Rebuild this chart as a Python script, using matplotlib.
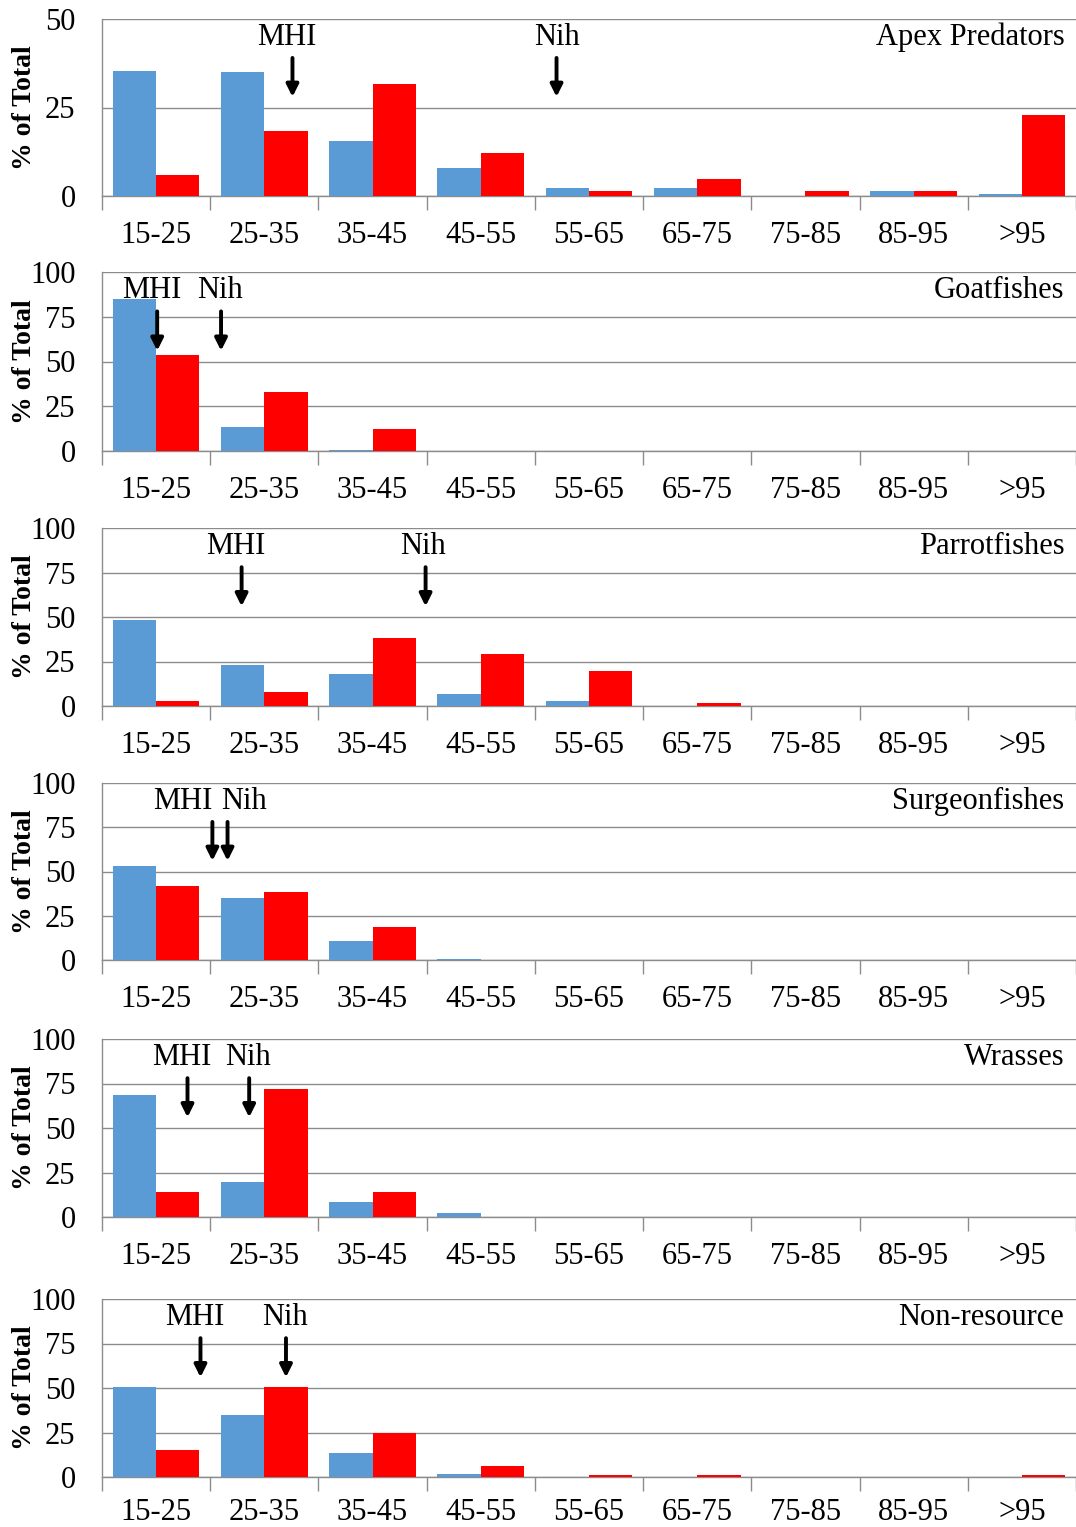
import numpy as np
import matplotlib.pyplot as plt

plt.rcParams["font.family"] = ["Liberation Serif", "DejaVu Serif"]

size_classes = ["15-25", "25-35", "35-45", "45-55", "55-65", "65-75", "75-85", "85-95", ">95"]

groups = ["Apex Predators", "Goatfishes", "Parrotfishes", "Surgeonfishes", "Wrasses", "Non-resource"]

# % of total per size class (cm): blue = MHI, red = Nihoa
mhi_apex = [35.3, 35.0, 15.6, 7.8, 2.2, 2.2, 0.0, 1.5, 0.5]
nih_apex = [6.0, 18.4, 31.7, 12.2, 1.5, 4.7, 1.5, 1.5, 22.9]

mhi_goat = [85.0, 13.3, 0.8, 0, 0, 0, 0, 0, 0]
nih_goat = [53.9, 33.1, 12.4, 0, 0, 0, 0, 0, 0]

mhi_parrot = [48.4, 22.9, 18.0, 6.9, 2.8, 0, 0, 0, 0]
nih_parrot = [2.8, 7.7, 38.1, 29.1, 19.7, 1.5, 0, 0, 0]

mhi_surgeon = [52.9, 35.0, 10.6, 0.8, 0, 0, 0, 0, 0]
nih_surgeon = [42.0, 38.4, 18.9, 0, 0, 0, 0, 0, 0]

mhi_wrasse = [68.7, 19.7, 8.4, 2.4, 0, 0, 0, 0, 0]
nih_wrasse = [14.3, 71.7, 14.3, 0, 0, 0, 0, 0, 0]

mhi_nonres = [50.3, 34.6, 13.3, 1.7, 0, 0, 0, 0, 0]
nih_nonres = [15.3, 50.5, 25.0, 6.4, 1.1, 1.1, 0, 0, 1.1]

mhi_all = [mhi_apex, mhi_goat, mhi_parrot, mhi_surgeon, mhi_wrasse, mhi_nonres]
nih_all = [nih_apex, nih_goat, nih_parrot, nih_surgeon, nih_wrasse, nih_nonres]

# mean-size arrows: x position on the size-class axis for MHI and Nihoa
mhi_arrow_x = [1.26, 0.01, 0.79, 0.52, 0.29, 0.41]
nih_arrow_x = [3.70, 0.60, 2.49, 0.66, 0.86, 1.20]
mhi_text_x = [1.21, -0.04, 0.74, 0.25, 0.24, 0.36]
nih_text_x = [3.70, 0.59, 2.47, 0.81, 0.85, 1.19]

y_max = [50, 100, 100, 100, 100, 100]

BLUE = "#5B9BD5"
RED = "#FF0000"
GRID = "#8C8C8C"
FS = 22

fig = plt.figure(figsize=(10.76, 15.27), dpi=100)

panel_px = [(19, 196), (272, 451), (528, 706), (783, 960), (1039, 1217), (1299, 1477)]
H = 1527.0
left = 102 / 1076.0

x = np.arange(len(size_classes))
w = 0.4

for i, (top, bot) in enumerate(panel_px):
    ax = fig.add_axes([left, 1 - bot / H, 1.0 - left, (bot - top) / H])
    ymax = y_max[i]

    ax.bar(x - w / 2, mhi_all[i], width=w, color=BLUE, zorder=3)
    ax.bar(x + w / 2, nih_all[i], width=w, color=RED, zorder=3)

    ax.set_xlim(-0.5, 8.5)
    ax.set_ylim(0, ymax)
    ax.set_yticks(np.linspace(0, ymax, 5) if ymax == 100 else [0, 25, 50])
    ax.yaxis.grid(True, color=GRID, linewidth=1.0, zorder=0)
    ax.set_axisbelow(True)

    # last row sits close to the bottom edge
    xpad = 18 if i < len(panel_px) - 1 else 15

    ax.set_xticks(x)
    ax.set_xticklabels(size_classes)
    ax.set_xticks(np.arange(-0.5, 8.6, 1.0), minor=True)
    ax.tick_params(axis="x", which="major", length=0, pad=xpad, labelsize=FS)
    ax.tick_params(axis="x", which="minor", length=10, width=1, color=GRID)
    ax.tick_params(axis="y", length=0, pad=19, labelsize=FS)

    for s in ["top", "right"]:
        ax.spines[s].set_visible(False)
    for s in ["left", "bottom"]:
        ax.spines[s].set_color(GRID)
        ax.spines[s].set_linewidth(1.0)

    ax.set_ylabel("% of Total", fontsize=20, fontweight="bold")
    ax.yaxis.set_label_coords(-0.067, 0.5)

    ax.text(0.988, 0.895, groups[i], transform=ax.transAxes, ha="right", va="center", fontsize=FS)

    # arrows marking mean size at each location
    a_top = 0.78 * ymax
    a_bot = 0.56 * ymax
    t_y = 0.895 * ymax
    for ax_x, tx, lab in [(mhi_arrow_x[i], mhi_text_x[i], "MHI"), (nih_arrow_x[i], nih_text_x[i], "Nih")]:
        ax.annotate("", xy=(ax_x, a_bot), xytext=(ax_x, a_top),
                    arrowprops=dict(arrowstyle="-|>", color="black", lw=2.8, mutation_scale=18,
                                    shrinkA=0, shrinkB=0), zorder=5)
        ax.text(tx, t_y, lab, ha="center", va="center", fontsize=FS, zorder=5)

fig.savefig("out.png", dpi=100)
